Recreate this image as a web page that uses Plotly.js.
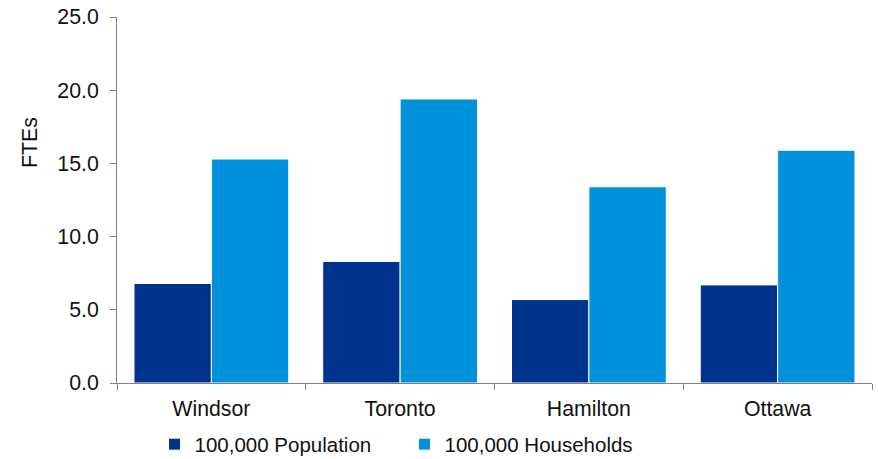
<!DOCTYPE html>
<html>
<head>
<meta charset="utf-8">
<script src="https://cdn.plot.ly/plotly-3.0.1.min.js"></script>
<style>
  html, body { margin: 0; padding: 0; background: #fff; }
  #chart { width: 878px; height: 459px; }
</style>
</head>
<body>
<div id="chart"></div>
<script>
// Cities compared
const cities = ["Windsor", "Toronto", "Hamilton", "Ottawa"];
// FTEs per 100,000 population
const perPopulation = [6.8, 8.3, 5.7, 6.7];
// FTEs per 100,000 households
const perHouseholds = [15.3, 19.4, 13.4, 15.9];
// Value axis ticks
const yTicks = [0, 5, 10, 15, 20, 25];

const font = { family: "Liberation Sans, Arial, sans-serif", size: 21.3, color: "#111" };
const legendFont = { family: "Liberation Sans, Arial, sans-serif", size: 20.5, color: "#111" };

const traces = [
  {
    type: "bar",
    name: "100,000 Population",
    x: cities,
    y: perPopulation,
    marker: { color: "#00338D", line: { color: "#ffffff", width: 1 } },
    hoverinfo: "skip"
  },
  {
    type: "bar",
    name: "100,000 Households",
    x: cities,
    y: perHouseholds,
    marker: { color: "#0091DA", line: { color: "#ffffff", width: 1 } },
    hoverinfo: "skip"
  }
];

const layout = {
  width: 878,
  height: 459,
  margin: { l: 117, r: 6, t: 17, b: 76 },
  paper_bgcolor: "#ffffff",
  plot_bgcolor: "#ffffff",
  font: font,
  barmode: "group",
  bargap: 0.18,
  bargroupgap: 0,
  showlegend: true,
  legend: {
    orientation: "h",
    xref: "container",
    yref: "container",
    x: 0.176,
    xanchor: "left",
    y: 0.032,
    yanchor: "middle",
    font: legendFont,
    itemwidth: 30,
    entrywidth: 205,
    traceorder: "normal"
  },
  // axis title placed as a rotated label, raised above the axis midpoint
  annotations: [
    {
      text: "FTEs",
      xref: "paper",
      yref: "paper",
      x: -0.115,
      y: 0.656,
      xanchor: "center",
      yanchor: "middle",
      textangle: -90,
      showarrow: false,
      font: font
    }
  ],
  xaxis: {
    type: "category",
    showline: true,
    linecolor: "#808080",
    linewidth: 1,
    ticks: "outside",
    tickson: "boundaries",
    ticklen: 6,
    tickcolor: "#808080",
    showgrid: false,
    zeroline: false,
    tickfont: font,
    ticklabelstandoff: 6
  },
  yaxis: {
    range: [0, 25],
    tickvals: yTicks,
    tickformat: ".1f",
    showline: true,
    linecolor: "#808080",
    linewidth: 1,
    ticks: "outside",
    ticklen: 6,
    tickcolor: "#808080",
    showgrid: false,
    zeroline: false,
    tickfont: font,
    ticklabelstandoff: 7
  }
};

Plotly.newPlot("chart", traces, layout, { displayModeBar: false, staticPlot: true });
</script>
</body>
</html>
